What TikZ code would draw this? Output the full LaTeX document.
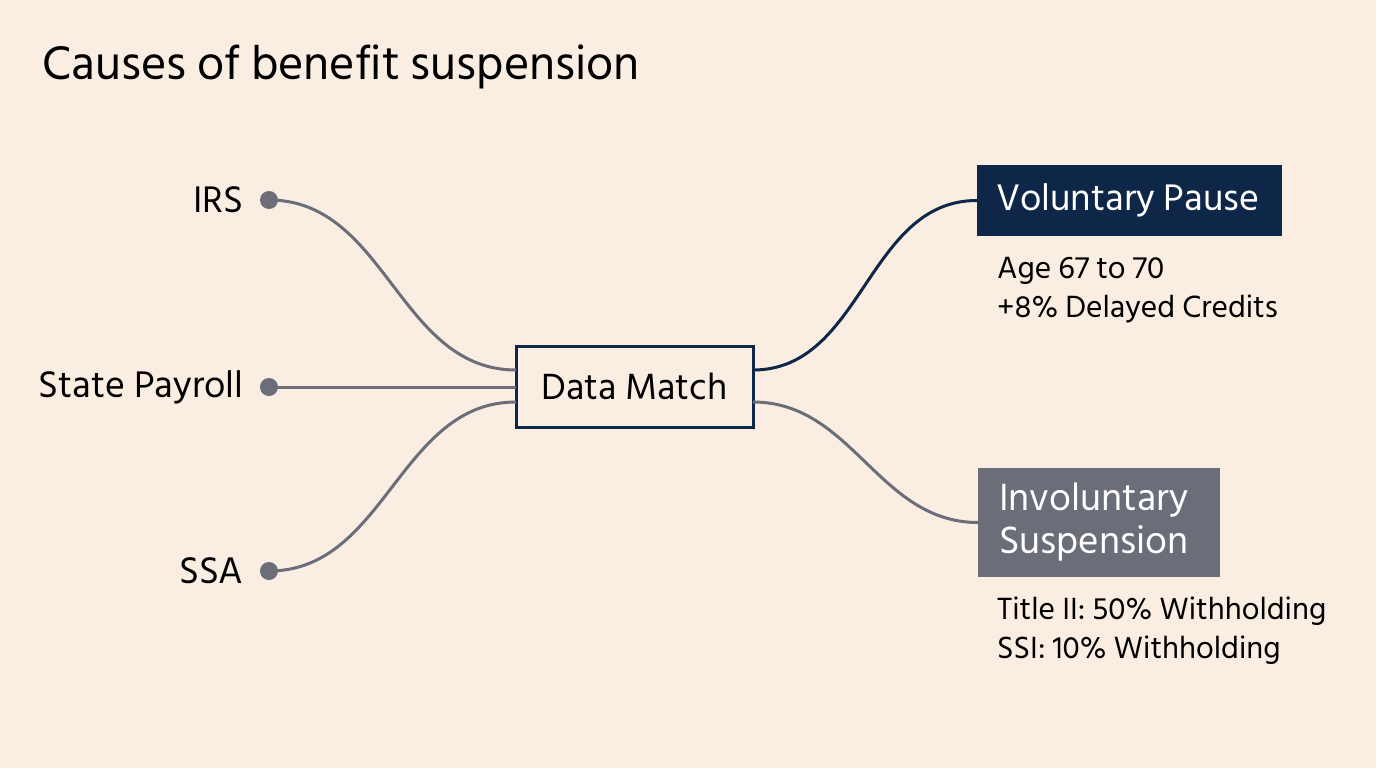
\documentclass[tikz,border=0pt]{standalone}
\usepackage{fontspec}
\setmainfont{Hind Siliguri}
\usetikzlibrary{positioning}
\definecolor{bgpeach}{HTML}{FAEEE2}
\definecolor{navy}{HTML}{0E2748}
\definecolor{slate}{HTML}{6B6E79}
\tikzset{
    src/.style={anchor=east, inner sep=0pt, font=\fontsize{38}{40}\selectfont},
    dot/.style={circle, fill=slate, inner sep=0pt, minimum size=18pt},
    link/.style={line width=3pt, slate},
    hub/.style={draw=navy, line width=3pt, fill=bgpeach, minimum width=237pt, minimum height=81pt, font=\fontsize{37.4}{40}\selectfont},
    outcome/.style={inner sep=0pt, text=white, align=flush left, font=\fontsize{39}{43}\selectfont},
    detail/.style={anchor=north west, inner sep=0pt, align=left, font=\fontsize{31.5}{39}\selectfont}
}
\begin{document}
\begin{tikzpicture}[x=1pt, y=-1pt]
    \fill[bgpeach] (0,0) rectangle (1376,768);
    \useasboundingbox (0,0) rectangle (1376,768);

    \node[anchor=base west, inner sep=0pt, font=\fontsize{48.3}{52}\selectfont] (title) at (42,80) {Causes of benefit suspension};

    % sources
    \node[dot] (irsdot) at (269,200) {};
    \node[dot] (paydot) at (269,387) {};
    \node[dot] (ssadot) at (269,571) {};
    \node[src, left=16pt of irsdot] (irs) {IRS};
    \node[src, left=16pt of paydot] (pay) {State Payroll};
    \node[src, left=16pt of ssadot] (ssa) {SSA};

    % hub
    \node[hub] (match) at (634.5,386.5) {Data Match};
    \coordinate (in1) at (516,370);
    \coordinate (in2) at (516,387);
    \coordinate (in3) at (516,402);
    \coordinate (out1) at (753,370);
    \coordinate (out2) at (753,402);

    % outcomes
    \node[outcome, fill=navy, text width=267pt, minimum height=71pt, inner xsep=19pt, font=\fontsize{38}{43}\selectfont] (vol) at (1129.5,200.5) {Voluntary Pause};
    \node[outcome, fill=slate, text width=200pt, minimum height=109pt, inner xsep=21pt, anchor=west] (invol) at (978,522.5) {Involuntary\\Suspension};

    \node[detail] (voldet) at (997,257) {Age 67 to 70\\+8\% Delayed Credits};
    \node[detail] (involdet) at (997,597) {Title II: 50\% Withholding\\SSI: 10\% Withholding};

    % connectors
    \draw[link] (irsdot.center) to[out=0, in=180] (in1);
    \draw[link] (paydot.center) -- (in2);
    \draw[link] (ssadot.center) to[out=0, in=180] (in3);
    \draw[link, navy] (out1) to[out=0, in=180] (vol.west);
    \draw[link] (out2) to[out=0, in=180] (invol.west);
\end{tikzpicture}
\end{document}
